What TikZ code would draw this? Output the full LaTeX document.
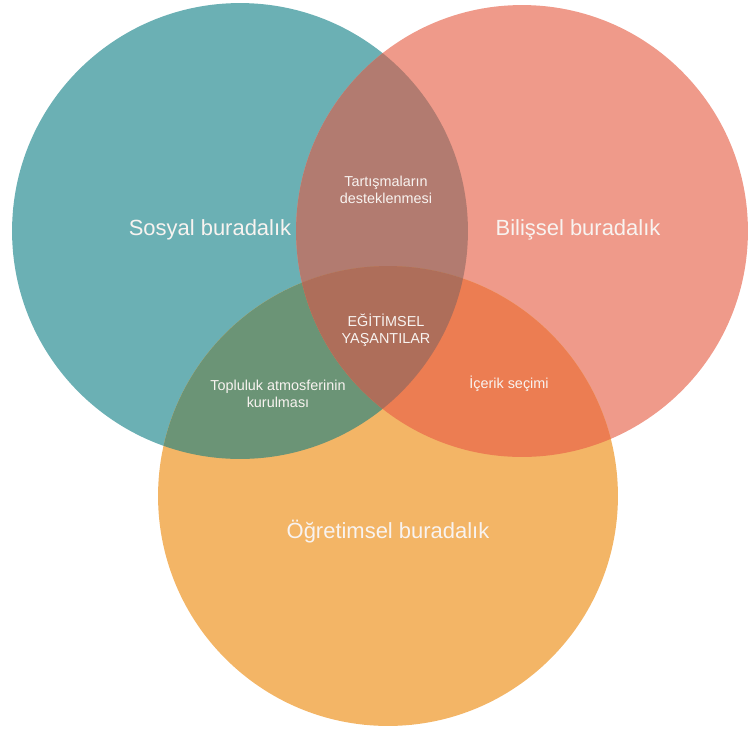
\documentclass[tikz,border=0pt]{standalone}
\usepackage{fontspec}
\setmainfont{Liberation Sans}
\usepackage{tikz}
\usetikzlibrary{positioning}
\usepackage{xcolor}
\definecolor{sos}{HTML}{6BB0B4}
\definecolor{bil}{HTML}{EF9A8A}
\definecolor{ogr}{HTML}{F3B566}
\definecolor{sosbil}{HTML}{B27B70}
\definecolor{sosogr}{HTML}{6B9476}
\definecolor{bilogr}{HTML}{EC7D52}
\definecolor{hepsi}{HTML}{AE6E5A}
\definecolor{yazi}{HTML}{F8F3F0}
\tikzset{
  big/.style={text=yazi,font=\fontsize{12.5}{15}\selectfont,align=center,inner sep=0pt},
  small/.style={text=yazi,font=\fontsize{8.2}{9.8}\selectfont,align=center,inner sep=0pt},
}

\begin{document}
\begin{tikzpicture}[x=0.02cm,y=-0.02cm]
  \useasboundingbox (0,0) rectangle (748,728);
  \clip (0,0) rectangle (748,728);
  \coordinate (s) at (240,231);
  \coordinate (b) at (522,231);
  \coordinate (o) at (388,496);
  % circles
  \fill[sos] (s) circle (4.56cm);
  \fill[bil] (b) circle (4.52cm);
  \fill[ogr] (o) circle (4.6cm);
  % overlaps
  \begin{scope}
    \clip (s) circle (4.56cm);
    \fill[sosbil] (b) circle (4.52cm);
  \end{scope}
  \begin{scope}
    \clip (s) circle (4.56cm);
    \fill[sosogr] (o) circle (4.6cm);
  \end{scope}
  \begin{scope}
    \clip (b) circle (4.52cm);
    \fill[bilogr] (o) circle (4.6cm);
  \end{scope}
  \begin{scope}
    \clip (s) circle (4.56cm);
    \clip (b) circle (4.52cm);
    \fill[hepsi] (o) circle (4.6cm);
  \end{scope}
  % labels
  \node[big] (sosyal) at (210,230) {Sosyal buradalık};
  \node[big] (bilissel) at (578,230) {Bilişsel buradalık};
  \node[big] (ogretimsel) at (388,532) {Öğretimsel buradalık};
  \node[small] (tartisma) at (386,190) {Tartışmaların\\desteklenmesi};
  \node[small] (egitimsel) at (386,330) {EĞİTİMSEL\\YAŞANTILAR};
  \node[small] (topluluk) at (278,394) {Topluluk atmosferinin\\kurulması};
  \node[small] (icerik) at (509,384) {İçerik seçimi};
\end{tikzpicture}
\end{document}
